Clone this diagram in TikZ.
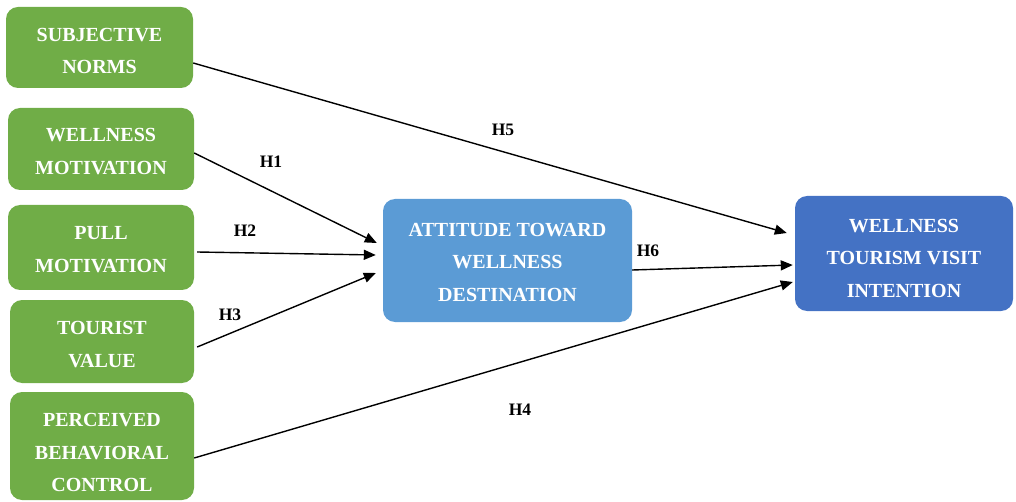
\documentclass[tikz,border=0pt]{standalone}
\usepackage{fontspec}
\setmainfont{Liberation Serif}
\usetikzlibrary{arrows.meta,calc}
\definecolor{boxgreen}{HTML}{70AD47}
\definecolor{attblue}{HTML}{5B9BD5}
\definecolor{intblue}{HTML}{4472C4}
\newcommand{\dnshift}[1]{\rule{0pt}{\dimexpr 13.3pt+#1pt+#1pt\relax}}
\begin{document}
\begin{tikzpicture}[x=1pt,y=-1pt,
  box/.style={rectangle,rounded corners=12pt,draw=none,text=white,align=center,
    font=\fontsize{20}{32.5}\selectfont\bfseries,inner sep=0pt},
  gbox/.style={box,fill=boxgreen},
  lab/.style={font=\fontsize{17.5}{20}\selectfont\bfseries,text=black},
  arr/.style={line width=1.4pt,-{Triangle[length=12pt,width=10pt]}}]
\useasboundingbox (0,0) rectangle (1016,502);
\node[gbox,minimum width=187pt,minimum height=81pt] (sn) at (99.5,47.5) {\dnshift{3.5}SUBJECTIVE\\NORMS};
\node[gbox,minimum width=186pt,minimum height=82pt] (wm) at (101,149) {\dnshift{2.5}WELLNESS\\MOTIVATION};
\node[gbox,minimum width=186pt,minimum height=85pt] (pm) at (101,247.5) {\dnshift{2}PULL\\MOTIVATION};
\node[gbox,minimum width=184pt,minimum height=83pt] (tv) at (102,341.5) {\dnshift{3}TOURIST\\VALUE};
\node[gbox,minimum width=184pt,minimum height=108pt] (pbc) at (102,446) {\dnshift{6.5}PERCEIVED\\BEHAVIORAL\\CONTROL};
\node[box,fill=attblue,minimum width=249pt,minimum height=123pt] (att) at (507.5,260.5) {\dnshift{1.5}ATTITUDE TOWARD\\WELLNESS\\DESTINATION};
\node[box,fill=intblue,minimum width=218pt,minimum height=115pt] (int) at (904,253.5) {\dnshift{4.5}WELLNESS\\TOURISM VISIT\\INTENTION};

\draw[arr] ($(sn.east)+(0,15.5)$) -- ($(int.west)+(-8,-20.5)$);
\draw[arr] ($(wm.east)+(0,4)$) -- ($(att.west)+(-6,-17.5)$);
\draw[arr] ($(pm.east)+(3,4.5)$) -- ($(att.west)+(-7,-5.5)$);
\draw[arr] ($(tv.east)+(3,5.5)$) -- ($(att.west)+(-7,12.5)$);
\draw[arr] ($(att.east)+(0,9.5)$) -- ($(int.west)+(-2,11.5)$);
\draw[arr] ($(pbc.east)+(0,12)$) -- ($(int.west)+(-2,28.5)$);

\node[lab] (h5) at (503,130) {H5};
\node[lab] (h1) at (271,162) {H1};
\node[lab] (h2) at (245,231) {H2};
\node[lab] (h3) at (230,315) {H3};
\node[lab] (h6) at (648,251) {H6};
\node[lab] (h4) at (520,410) {H4};
\end{tikzpicture}
\end{document}
